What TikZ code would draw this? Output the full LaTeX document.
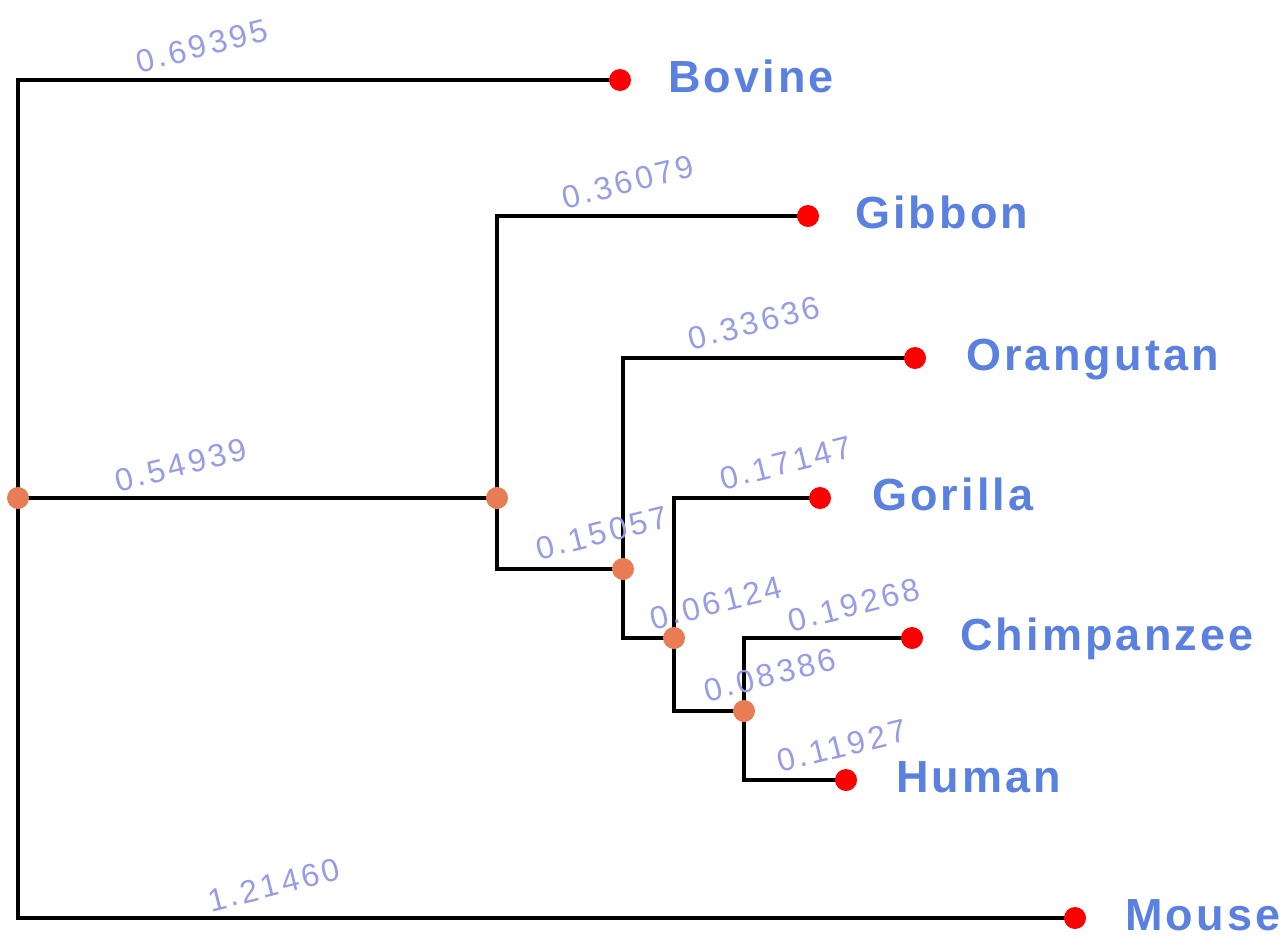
\documentclass[tikz,border=0pt]{standalone}
\usepackage{fontspec}
\setmainfont{Liberation Sans}
\newfontfamily\taxfont[LetterSpace=7]{Liberation Sans}
\newfontfamily\lenfont[LetterSpace=10]{Liberation Sans}
\usetikzlibrary{backgrounds}
\definecolor{taxblue}{RGB}{90,128,224}
\definecolor{lenblue}{RGB}{150,156,230}
\definecolor{nodeorange}{RGB}{232,124,84}
\tikzset{
  leaf/.style={circle, fill=red, inner sep=0pt, minimum size=22pt},
  internal/.style={circle, fill=nodeorange, inner sep=0pt, minimum size=22pt},
  taxon/.style={anchor=base west, inner sep=0pt, text=taxblue, font=\taxfont\bfseries\fontsize{45}{45}\selectfont},
  blen/.style={rotate=14, inner sep=0pt, text=lenblue, font=\lenfont\fontsize{32}{32}\selectfont},
  branch/.style={line width=3.5pt, black}
}
\begin{document}
\begin{tikzpicture}[x=1pt, y=-1pt]
\useasboundingbox (0,0) rectangle (1281,938);
% internal nodes
\node[internal] (root) at (18,498) {};
\node[internal] (n1) at (497,498) {};
\node[internal] (n2) at (623,569) {};
\node[internal] (n3) at (674,638) {};
\node[internal] (n4) at (744,711) {};
% leaves
\node[leaf] (bov) at (620,80) {};
\node[leaf] (gib) at (808,216) {};
\node[leaf] (ora) at (915,358) {};
\node[leaf] (gor) at (820,498) {};
\node[leaf] (chi) at (912,638) {};
\node[leaf] (hum) at (846,780) {};
\node[leaf] (mou) at (1075,918) {};
% branches
\begin{pgfonlayer}{background}
\draw[branch] (root.center) |- (bov.center);
\draw[branch] (root.center) -- (n1.center);
\draw[branch] (root.center) |- (mou.center);
\draw[branch] (n1.center) |- (gib.center);
\draw[branch] (n1.center) |- (n2.center);
\draw[branch] (n2.center) |- (ora.center);
\draw[branch] (n2.center) |- (n3.center);
\draw[branch] (n3.center) |- (gor.center);
\draw[branch] (n3.center) |- (n4.center);
\draw[branch] (n4.center) |- (chi.center);
\draw[branch] (n4.center) |- (hum.center);
\end{pgfonlayer}
% taxon labels
\node[taxon] (tbov) at (668,92) {Bovine};
\node[taxon] (tgib) at (855,228) {Gibbon};
\node[taxon] (tora) at (966,370) {Orangutan};
\node[taxon] (tgor) at (872,510) {Gorilla};
\node[taxon] (tchi) at (960,650) {Chimpanzee};
\node[taxon] (thum) at (896,792) {Human};
\node[taxon] (tmou) at (1125,930) {Mouse};
% branch lengths
\node[blen] (l1) at (202,46) {0.69395};
\node[blen] (l2) at (628,182) {0.36079};
\node[blen] (l3) at (754,323) {0.33636};
\node[blen] (l4) at (181,465) {0.54939};
\node[blen] (l5) at (786,463) {0.17147};
\node[blen] (l6) at (602,533) {0.15057};
\node[blen] (l7) at (716,603) {0.06124};
\node[blen] (l8) at (854,605) {0.19268};
\node[blen] (l9) at (770,675) {0.08386};
\node[blen] (l10) at (842,746) {0.11927};
\node[blen] (l11) at (274,885) {1.21460};
\end{tikzpicture}
\end{document}
